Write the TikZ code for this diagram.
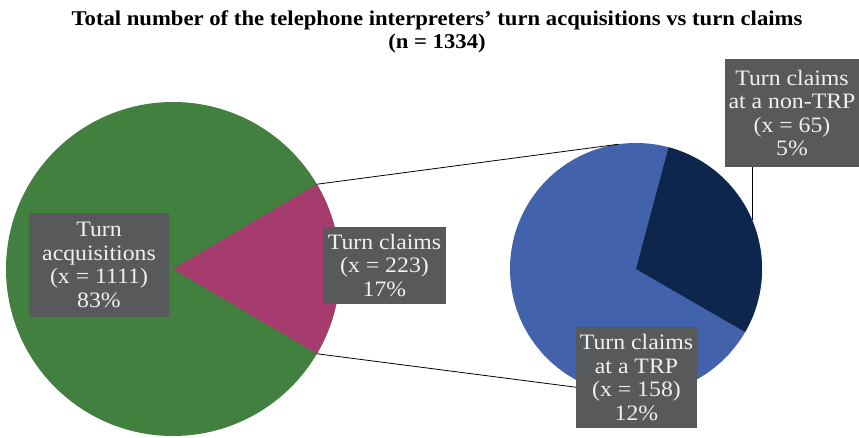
\documentclass[tikz,border=0pt]{standalone}
\usepackage{fontspec}
\setmainfont{Liberation Serif}
\newfontfamily\widefont{Liberation Serif}[FakeStretch=1.08]
\usetikzlibrary{calc}
\definecolor{acqgreen}{HTML}{41803F}
\definecolor{claimpink}{HTML}{A63B6D}
\definecolor{trpblue}{HTML}{4262AB}
\definecolor{nontrpnavy}{HTML}{0E264B}
\definecolor{boxgray}{HTML}{58595B}
\tikzset{
  lbl/.style={fill=boxgray, text=white!94!black, align=center, inner sep=0pt,
    font=\widefont\fontsize{22}{23.5}\selectfont},
  leader/.style={draw=black, line width=0.8pt}
}
\begin{document}
\begin{tikzpicture}[x=1pt, y=1pt, line join=round]
  \def\rbig{167}\def\rsmall{126}
  \def\cut{30.5}
  \useasboundingbox (0,0) rectangle (859,437);
  % title
  \node (title) at (437,405) [align=center, font=\widefont\bfseries\fontsize{21}{23.5}\selectfont]
    {Total number of the telephone interpreters’ turn acquisitions vs turn claims\\(n = 1334)};
  % left pie
  \coordinate (cl) at (173,168);
  \coordinate (cr) at (636,168);
  \fill[acqgreen] (cl) circle (\rbig);
  \fill[claimpink] (cl) -- ($(cl)+(-\cut:\rbig)$) arc (-\cut:\cut:\rbig) -- cycle;
  \coordinate (wtop) at ($(cl)+(\cut:\rbig)$);
  \coordinate (wbot) at ($(cl)+(-\cut:\rbig)$);
  % right pie
  \fill[trpblue] (cr) circle (\rsmall);
  \fill[nontrpnavy] (cr) -- ($(cr)+(-30:\rsmall)$) arc (-30:75:\rsmall) -- cycle;
  \coordinate (ptop) at ($(cr)+(98:\rsmall)$);
  \coordinate (pbot) at ($(cr)+(270:\rsmall)$);
  \coordinate (navytip) at ($(cr)+(22.9:\rsmall)$);
  % connectors
  \draw[leader] (wtop) -- (ptop);
  \draw[leader] (wbot) -- (pbot);
  % labels
  \node[lbl, minimum width=140, minimum height=104] (acq) at (99,172)
    {Turn\\acquisitions\\(x = 1111)\\83\%};
  \node[lbl, minimum width=123, minimum height=77] (claims) at (384.5,171.5)
    {Turn claims\\(x = 223)\\17\%};
  \node[lbl, minimum width=134, minimum height=108] (nontrp) at (792,324)
    {Turn claims\\at a non-TRP\\(x = 65)\\5\%};
  \node[lbl, minimum width=121, minimum height=101] (trp) at (636.5,59.5)
    {Turn claims\\at a TRP\\(x = 158)\\12\%};
  \draw[leader] (navytip |- nontrp.south) -- (navytip);
\end{tikzpicture}
\end{document}
